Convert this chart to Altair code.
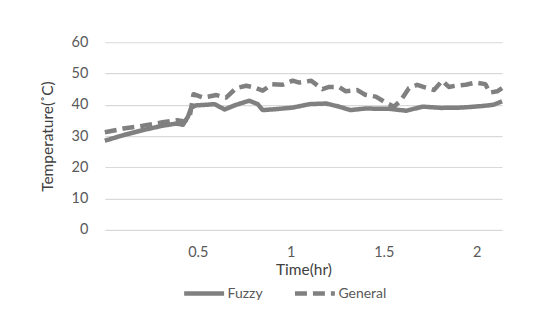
import altair as alt
import pandas as pd

fuzzy_t = [0.00, 0.10, 0.205, 0.31, 0.385, 0.42, 0.447, 0.465, 0.49, 0.545, 0.59, 0.644, 0.706, 0.777,
           0.822, 0.849, 0.92, 1.01, 1.10, 1.19, 1.26, 1.32, 1.40, 1.53, 1.62, 1.71, 1.81, 1.92, 2.03, 2.09, 2.136]
fuzzy_v = [28.5, 30.3, 31.9, 33.3, 34.0, 33.6, 36.2, 39.1, 39.8, 40.0, 40.2, 38.5, 40.0, 41.3,
           40.2, 38.3, 38.6, 39.1, 40.2, 40.4, 39.4, 38.3, 38.8, 38.7, 38.1, 39.4, 39.0, 39.1, 39.6, 40.0, 41.1]

general_t = [0.00, 0.10, 0.205, 0.31, 0.39, 0.43, 0.456, 0.477, 0.527, 0.60, 0.652, 0.706, 0.76, 0.804,
             0.849, 0.90, 0.956, 1.01, 1.046, 1.11, 1.17, 1.206, 1.26, 1.296, 1.358, 1.40, 1.457, 1.51,
             1.555, 1.59, 1.635, 1.68, 1.725, 1.77, 1.814, 1.85, 1.886, 1.94, 1.993, 2.046, 2.07, 2.11, 2.136]
general_v = [31.2, 32.4, 33.3, 34.4, 35.1, 34.7, 36.0, 43.4, 42.3, 43.1, 42.3, 45.3, 46.1, 45.5,
             44.5, 46.6, 46.4, 47.7, 47.1, 47.7, 45.0, 45.7, 45.7, 44.3, 44.7, 43.2, 42.6, 40.7,
             39.4, 41.3, 45.3, 46.4, 45.5, 44.7, 47.7, 45.7, 46.1, 46.4, 47.1, 46.6, 43.9, 44.3, 45.3]

series = ["Fuzzy", "General"]
x_ticks = [0.5, 1, 1.5, 2]
y_ticks = [0, 10, 20, 30, 40, 50, 60]

df = pd.concat([
    pd.DataFrame({"t": fuzzy_t, "v": fuzzy_v, "s": series[0], "o": range(len(fuzzy_t))}),
    pd.DataFrame({"t": general_t, "v": general_v, "s": series[1], "o": range(len(general_t))}),
])

FONT = "Lato"
TXT = "#595959"

chart = alt.Chart(df).mark_line(strokeWidth=4.5, strokeJoin="round", strokeCap="butt",
                                color="#808080").encode(
    x=alt.X("t:Q", title="Time(hr)",
            scale=alt.Scale(domain=[0, 2.136], nice=False, zero=False),
            axis=alt.Axis(values=x_ticks, format="~g", grid=False, ticks=False, domain=False,
                          labelPadding=16, titlePadding=3, labelFontSize=14.5, titleFontSize=15.5,
                          labelColor=TXT, titleColor="#404040", labelFont=FONT, titleFont=FONT,
                          titleFontWeight="normal", labelFlush=False)),
    y=alt.Y("v:Q", title="Temperature(˚C)",
            scale=alt.Scale(domain=[0, 60], nice=False),
            axis=alt.Axis(values=y_ticks, grid=True, gridColor="#d9d9d9", gridWidth=1.2,
                          ticks=False, domain=False, labelPadding=17, titlePadding=16,
                          labelFontSize=14.5, titleFontSize=15.5, labelColor=TXT, titleColor="#404040",
                          labelFont=FONT, titleFont=FONT, titleFontWeight="normal")),
    strokeDash=alt.StrokeDash("s:N", scale=alt.Scale(domain=series, range=[[1, 0], [12, 6]]),
                              legend=alt.Legend(title=None, orient="none", direction="horizontal",
                                                legendX=77, legendY=229,
                                                symbolType="stroke", symbolSize=1600,
                                                symbolStrokeWidth=4.5, symbolStrokeColor="#808080",
                                                labelFontSize=14, labelColor=TXT, labelFont=FONT,
                                                columnPadding=22, labelOffset=1)),
    order="o:Q",
).properties(
    width=398, height=188,
    autosize=alt.AutoSizeParams(type="none"),
    padding={"left": 97, "top": 34, "right": 40, "bottom": 90},
).configure_view(stroke=None)

chart.save("out.html", embed_options={"renderer": "svg", "actions": False})
